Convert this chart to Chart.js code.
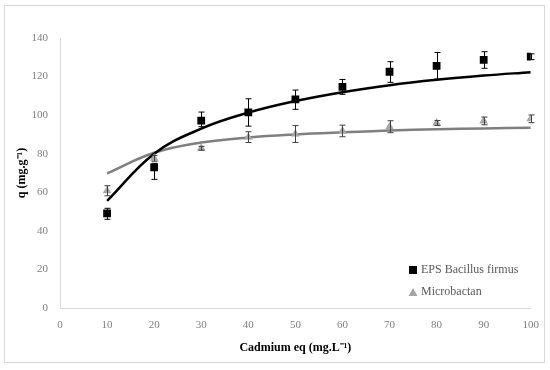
<!DOCTYPE html>
<html>
<head>
<meta charset="utf-8">
<script src="https://cdn.jsdelivr.net/npm/chart.js@4"></script>
<style>
html,body{margin:0;padding:0;background:#fff;}
#wrap{position:relative;width:550px;height:370px;}
#frame{position:absolute;left:4px;top:5px;width:541px;height:358px;border:1px solid #d9d9d9;box-sizing:border-box;}
canvas{position:absolute;left:0;top:0;}
</style>
</head>
<body>
<div id="wrap"><div id="frame"></div><canvas id="c" width="550" height="370"></canvas></div>
<script>
const concentrations = [10, 20, 30, 40, 50, 60, 70, 80, 90, 100];
const epsValues = [49.1, 72.9, 97.1, 101.4, 108.2, 114.7, 122.5, 125.6, 128.6, 130.3];
const epsErrUp = [2.6, 2.1, 4.5, 7.1, 4.8, 3.8, 5.2, 6.9, 4.3, 1.5];
const epsErrDown = [3.1, 6.2, 3.1, 7.1, 5.2, 3.9, 5.5, 6.9, 4.3, 1.5];
const microValues = [60.8, 77.6, 82.8, 88.6, 90.2, 91.8, 94.0, 95.9, 97.0, 98.1];
const microErrUp = [2.6, 1.5, 1.0, 2.8, 4.4, 3.0, 3.1, 1.3, 2.0, 2.0];
const microErrDown = [2.6, 1.5, 1.0, 2.8, 4.4, 3.0, 3.1, 1.3, 2.0, 2.0];
const epsFit = [55.5, 80.0, 93.0, 101.3, 107.3, 111.9, 115.5, 118.3, 120.5, 122.3];
const microFit = [69.8, 80.5, 85.8, 88.4, 90.0, 91.1, 92.0, 92.7, 93.1, 93.5];
const xTicks = [0, 10, 20, 30, 40, 50, 60, 70, 80, 90, 100];
const yTicks = [0, 20, 40, 60, 80, 100, 120, 140];
const seriesNames = ['EPS Bacillus firmus', 'Microbactan'];

const pts = (ys) => concentrations.map((x, i) => ({x: x, y: ys[i]}));

const errorBars = {
  id: 'errorBars',
  afterDatasetsDraw(chart) {
    const ctx = chart.ctx, xs = chart.scales.x, ys = chart.scales.y;
    chart.data.datasets.forEach((ds, di) => {
      if (!ds.errUp || !chart.isDatasetVisible(di)) return;
      ctx.save();
      ctx.strokeStyle = ds.errColor;
      ctx.lineWidth = 1;
      ds.data.forEach((p, i) => {
        const px = Math.round(xs.getPixelForValue(p.x)) + 0.5;
        const top = ys.getPixelForValue(p.y + ds.errUp[i]);
        const bot = ys.getPixelForValue(p.y - ds.errDown[i]);
        ctx.beginPath();
        ctx.moveTo(px, top); ctx.lineTo(px, bot);
        ctx.moveTo(px - 3, top); ctx.lineTo(px + 3, top);
        ctx.moveTo(px - 3, bot); ctx.lineTo(px + 3, bot);
        ctx.stroke();
      });
      ctx.restore();
    });
  }
};

const legendPlugin = {
  id: 'customLegend',
  afterDraw(chart) {
    const ctx = chart.ctx;
    ctx.save();
    ctx.font = '12px "Liberation Serif"';
    ctx.textBaseline = 'middle';
    ctx.textAlign = 'left';
    ctx.fillStyle = '#000';
    ctx.fillRect(409, 266, 8, 8);
    ctx.fillStyle = '#595959';
    ctx.fillText(seriesNames[0], 421, 270);
    ctx.fillStyle = '#a6a6a6';
    ctx.beginPath();
    ctx.moveTo(413, 288); ctx.lineTo(417.5, 296); ctx.lineTo(408.5, 296); ctx.closePath();
    ctx.fill();
    ctx.fillStyle = '#595959';
    ctx.fillText(seriesNames[1], 421, 292);
    ctx.restore();
  }
};

new Chart(document.getElementById('c'), {
  type: 'scatter',
  data: {
    datasets: [
      {label: 'EPS fit', type: 'line', data: pts(epsFit), borderColor: '#000', borderWidth: 2.5,
       pointRadius: 0, tension: 0.4, fill: false, order: 3},
      {label: 'Microbactan fit', type: 'line', data: pts(microFit), borderColor: '#7f7f7f', borderWidth: 2.5,
       pointRadius: 0, tension: 0.4, fill: false, order: 4},
      {label: seriesNames[0], data: pts(epsValues), pointStyle: 'rect', pointRadius: 5.5,
       backgroundColor: '#000', borderColor: '#000', borderWidth: 0,
       errUp: epsErrUp, errDown: epsErrDown, errColor: '#000', order: 1},
      {label: seriesNames[1], data: pts(microValues), pointStyle: 'triangle', pointRadius: 5,
       backgroundColor: '#a6a6a6', borderColor: '#a6a6a6', borderWidth: 0,
       errUp: microErrUp, errDown: microErrDown, errColor: '#404040', order: 2}
    ]
  },
  options: {
    responsive: false,
    animation: false,
    layout: {padding: {left: 0, right: 19, top: 38, bottom: 0}},
    plugins: {legend: {display: false}, tooltip: {enabled: false}},
    scales: {
      x: {
        type: 'linear', min: 0, max: 100,
        afterBuildTicks: (s) => { s.ticks = xTicks.map(v => ({value: v})); },
        afterFit: (s) => { s.height = 62; },
        grid: {display: false, drawTicks: false},
        border: {display: true, color: '#d9d9d9', width: 1},
        ticks: {color: '#7f7f7f', font: {family: 'Liberation Serif', size: 11}, padding: 11, maxRotation: 0},
        title: {display: true, text: 'Cadmium eq (mg.L⁻¹)', color: '#000',
                font: {family: 'Liberation Serif', size: 12, weight: 'bold'}, padding: {top: 15, bottom: 15}}
      },
      y: {
        min: 0, max: 140,
        afterBuildTicks: (s) => { s.ticks = yTicks.map(v => ({value: v})); },
        afterFit: (s) => { s.width = 60; },
        grid: {display: false, drawTicks: false},
        border: {display: true, color: '#d9d9d9', width: 1},
        ticks: {color: '#7f7f7f', font: {family: 'Liberation Serif', size: 11}, padding: 12},
        title: {display: true, text: 'q (mg.g⁻¹)', color: '#000',
                font: {family: 'Liberation Serif', size: 12, weight: 'bold'}, padding: {top: 15, bottom: 15}}
      }
    }
  },
  plugins: [errorBars, legendPlugin]
});
</script>
</body>
</html>
